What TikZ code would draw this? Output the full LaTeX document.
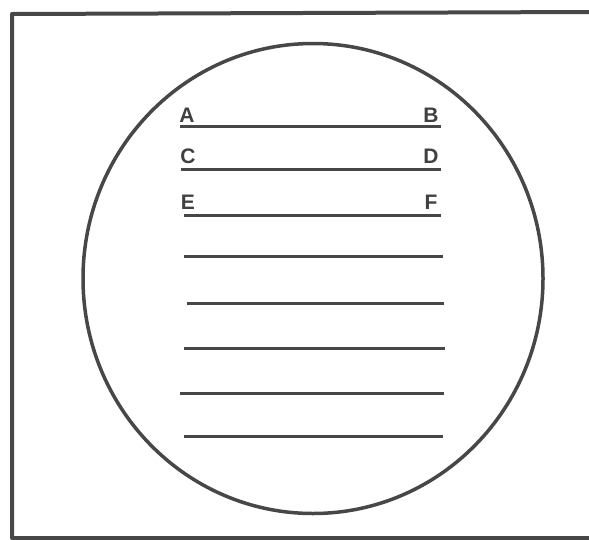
\documentclass[tikz,border=0pt]{standalone}
\usepackage{fontspec}
\setmainfont{Liberation Sans}
\usetikzlibrary{shapes.geometric}
\begin{document}
\begin{tikzpicture}[x=1pt,y=-1pt,
  ink/.style={draw=black!72, line width=3.5pt},
  rule/.style={draw=black!72, line width=3pt},
  lbl/.style={anchor=base, text=black!75, inner sep=0pt, font=\fontsize{21}{21}\selectfont\bfseries}]
\useasboundingbox (0,0) rectangle (589,539);
% frame
\coordinate (f1) at (12,538);
\coordinate (f2) at (12,14);
\coordinate (f3) at (592,12);
\coordinate (f4) at (592,538);
\draw[ink, line width=4pt, line join=round] (f4) -- (f1) -- (f2) -- (f3);
% circle
\node[ink, ellipse, minimum width=460pt, minimum height=470pt, inner sep=0pt] (circ) at (313,278.5) {};
% lines
\foreach \n/\xa/\xb/\y in {1/180/441/126, 2/181/441/169.5, 3/184/441/215.5, 4/184/443/256.5, 5/187/444/303.5, 6/184/445/348.5, 7/180/444/393, 8/184/443/436} {
  \coordinate (l\n a) at (\xa,\y);
  \coordinate (l\n b) at (\xb,\y);
  \draw[rule] (l\n a) -- (l\n b);
}
% labels
\node[lbl] (A) at (187,122) {A};
\node[lbl] (B) at (431,122) {B};
\node[lbl] (C) at (188,163) {C};
\node[lbl] (D) at (431,163) {D};
\node[lbl] (E) at (188,209.5) {E};
\node[lbl] (F) at (431,209.5) {F};
\end{tikzpicture}
\end{document}
